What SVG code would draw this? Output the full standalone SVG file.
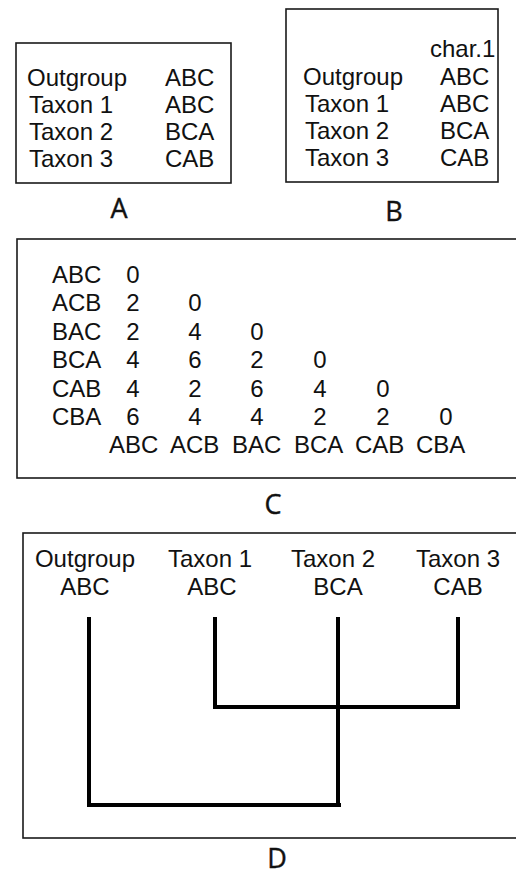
<svg xmlns="http://www.w3.org/2000/svg" width="516" height="877" viewBox="0 0 516 877">
<style>
.box{fill:none;stroke:#1a1a1a;stroke-width:1.6}
.t{font-family:"Liberation Sans",Arial,sans-serif;font-size:24px;fill:#111}
.m{text-anchor:middle}
.lab{font-family:"Open Sans","DejaVu Sans",sans-serif;font-size:27px;fill:#111;stroke:#111;stroke-width:0.4;text-anchor:middle}
.br{fill:none;stroke:#000;stroke-width:4;stroke-linecap:square;stroke-linejoin:miter}
</style>
<rect width="516" height="877" fill="#fff"/>
<g id="panelA">
<rect class="box" x="16" y="43" width="215" height="140"/>
<text class="t" x="27" y="86">Outgroup</text><text class="t" x="165" y="86">ABC</text>
<text class="t" x="29" y="113">Taxon 1</text><text class="t" x="165" y="113">ABC</text>
<text class="t" x="29" y="140">Taxon 2</text><text class="t" x="165" y="140">BCA</text>
<text class="t" x="29" y="167">Taxon 3</text><text class="t" x="165" y="167">CAB</text>
<text class="lab" x="119" y="218">A</text>
</g>
<g id="panelB">
<rect class="box" x="286" y="9" width="212" height="173"/>
<text class="t" x="430" y="57">char.1</text>
<text class="t" x="303" y="85">Outgroup</text><text class="t" x="440" y="85">ABC</text>
<text class="t" x="305" y="112">Taxon 1</text><text class="t" x="440" y="112">ABC</text>
<text class="t" x="305" y="139">Taxon 2</text><text class="t" x="440" y="139">BCA</text>
<text class="t" x="305" y="166">Taxon 3</text><text class="t" x="440" y="166">CAB</text>
<text class="lab" x="394" y="221">B</text>
</g>
<g id="panelC">
<rect class="box" x="17" y="239" width="510" height="239"/>
<text class="t" x="52" y="283">ABC</text>
<text class="t" x="52" y="311">ACB</text>
<text class="t" x="52" y="340">BAC</text>
<text class="t" x="52" y="368">BCA</text>
<text class="t" x="52" y="397">CAB</text>
<text class="t" x="52" y="425">CBA</text>
<g class="t m">
<text x="133" y="283">0</text>
<text x="133" y="311">2</text><text x="195" y="311">0</text>
<text x="133" y="340">2</text><text x="195" y="340">4</text><text x="257" y="340">0</text>
<text x="133" y="368">4</text><text x="195" y="368">6</text><text x="257" y="368">2</text><text x="320" y="368">0</text>
<text x="133" y="397">4</text><text x="195" y="397">2</text><text x="257" y="397">6</text><text x="320" y="397">4</text><text x="383" y="397">0</text>
<text x="133" y="425">6</text><text x="195" y="425">4</text><text x="257" y="425">4</text><text x="320" y="425">2</text><text x="383" y="425">2</text><text x="446" y="425">0</text>
</g>
<g class="t">
<text x="109" y="453">ABC</text><text x="170" y="453">ACB</text><text x="232" y="453">BAC</text><text x="294" y="453">BCA</text><text x="355" y="453">CAB</text><text x="416" y="453">CBA</text>
</g>
<text class="lab" x="273" y="514">C</text>
</g>
<g id="panelD">
<rect class="box" x="23" y="533" width="510" height="305"/>
<g id="outgroup"><text class="t m" x="85" y="567">Outgroup</text><text class="t m" x="85" y="595">ABC</text></g>
<g id="taxon1"><text class="t m" x="210" y="567">Taxon 1</text><text class="t m" x="212" y="595">ABC</text></g>
<g id="taxon2"><text class="t m" x="333" y="567">Taxon 2</text><text class="t m" x="338" y="595">BCA</text></g>
<g id="taxon3"><text class="t m" x="458" y="567">Taxon 3</text><text class="t m" x="458" y="595">CAB</text></g>
<text class="lab" x="277" y="868">D</text>
</g>
<g id="connectors">
<path class="br" d="M89 619 V805 H339"/>
<path class="br" d="M338 619 V805"/>
<path class="br" d="M215 619 V707 H458 V619"/>
</g>
</svg>
